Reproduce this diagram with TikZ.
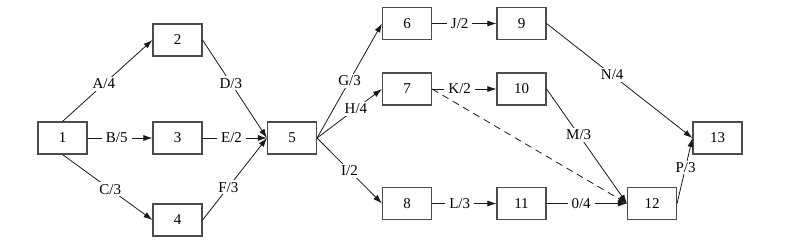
\documentclass[tikz,border=0pt]{standalone}
\usepackage{fontspec}
\setmainfont{Liberation Serif}
\usetikzlibrary{arrows.meta}
\begin{document}
\begin{tikzpicture}[x=1pt,y=1pt,
  evbox/.style={draw=black!70, line width=1.1pt, minimum width=49pt, minimum height=32pt, inner sep=0pt, font=\fontsize{15}{15}\selectfont},
  act/.style={draw=black!90, line width=0.8pt, -{Latex[length=9pt,width=6pt]}},
  lbl/.style={fill=white, inner xsep=4pt, inner ysep=2pt, font=\fontsize{15}{15}\selectfont, text=black}]
\useasboundingbox (0,0) rectangle (785,240);
\node[evbox] (n1) at (62.5,102) {1};
\node[evbox] (n2) at (177.5,200) {2};
\node[evbox] (n3) at (177.5,102) {3};
\node[evbox] (n4) at (177.5,20) {4};
\node[evbox] (n5) at (292,102) {5};
\node[evbox] (n6) at (407,216.5) {6};
\node[evbox] (n7) at (407,151) {7};
\node[evbox] (n8) at (407,36.5) {8};
\node[evbox] (n9) at (521.5,216.5) {9};
\node[evbox] (n10) at (521.5,151) {10};
\node[evbox] (n11) at (521.5,36.5) {11};
\node[evbox] (n12) at (652,36.5) {12};
\node[evbox] (n13) at (717.5,102) {13};
\draw[act] (n1.north) -- node[lbl,pos=0.46] {A/4} (n2.west);
\draw[act] (n1.east) -- node[lbl,pos=0.45] {B/5} (n3.west);
\draw[act] (n1.south) -- node[lbl,pos=0.53] {C/3} (n4.west);
\draw[act] (n2.east) -- node[lbl,pos=0.44] {D/3} (n5.west);
\draw[act] (n3.east) -- node[lbl,pos=0.45] {E/2} (n5.west);
\draw[act] (n4.east) -- node[lbl,pos=0.4] {F/3} (n5.west);
\draw[act] (n5.east) -- node[lbl,pos=0.5] {G/3} (n6.west);
\draw[act] (n5.east) -- node[lbl,pos=0.6,inner xsep=2pt] {H/4} (n7.west);
\draw[act] (n5.east) -- node[lbl,pos=0.5] {I/2} (n8.west);
\draw[act] (n6.east) -- node[lbl,pos=0.43] {J/2} (n9.west);
\draw[act] (n7.east) -- node[lbl,pos=0.43] {K/2} (n10.west);
\draw[act] (n8.east) -- node[lbl,pos=0.43] {L/3} (n11.west);
\draw[act, dash pattern=on 7pt off 5pt] (n7.east) -- (n12.west);
\draw[act] (n9.east) -- node[lbl,pos=0.45] {N/4} (n13.west);
\draw[act] (n10.east) -- node[lbl,pos=0.4] {M/3} (n12.west);
\draw[act] (n11.east) -- node[lbl,pos=0.43] {0/4} (n12.west);
\draw[act] (n12.east) -- node[lbl,pos=0.55,inner sep=1pt] {P/3} (n13.west);
\end{tikzpicture}
\end{document}
